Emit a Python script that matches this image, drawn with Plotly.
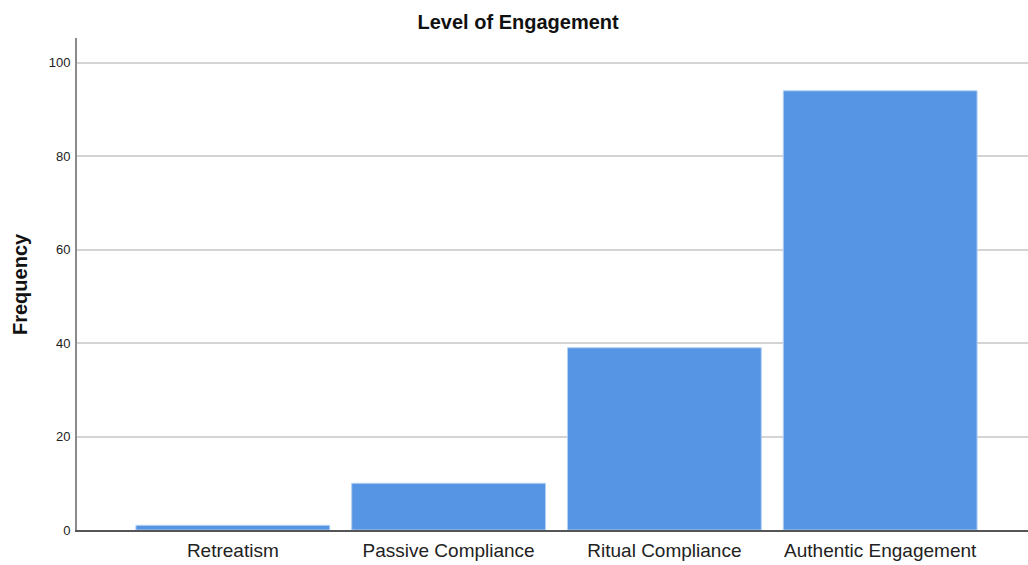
import plotly.graph_objects as go

categories = ["Retreatism", "Passive Compliance", "Ritual Compliance", "Authentic Engagement"]
frequency = [1, 10, 39, 94]
y_ticks = [0, 20, 40, 60, 80, 100]

fig = go.Figure(go.Bar(
    x=categories,
    y=frequency,
    marker=dict(color="#5595E3", line=dict(color="#b3cff3", width=1)),
    hoverinfo="x+y",
))

fig.update_layout(
    width=1028, height=565,
    margin=dict(l=77, r=0, t=38, b=35),
    paper_bgcolor="white", plot_bgcolor="white",
    bargap=0.102,
    font=dict(family="Liberation Sans, Arial, sans-serif", color="#222"),
    title=dict(text="<b>Level of Engagement</b>", x=0.504, xanchor="center",
               y=1 - 22/565, yanchor="middle", font=dict(size=20, color="#111")),
    showlegend=False,
)

fig.update_xaxes(
    type="category",
    range=[-0.722, 3.685],
    showgrid=False,
    showline=True, linecolor="#555", linewidth=1.5,
    ticks="", tickfont=dict(size=19, color="#222"),
    ticklabelstandoff=2,
    zeroline=False,
)

fig.update_yaxes(
    range=[0, 105.3],
    tickvals=y_ticks,
    showgrid=True, gridcolor="#d4d4d4", gridwidth=2,
    showline=True, linecolor="#8a8a8a", linewidth=2,
    ticks="", tickfont=dict(size=13, color="#222"),
    ticklabelstandoff=2,
    zeroline=False,
)

fig.add_annotation(
    text="<b>Frequency</b>", textangle=-90,
    xref="paper", yref="paper", x=-57/951, y=0.5,
    xanchor="center", yanchor="middle", showarrow=False,
    font=dict(size=20, color="#111"),
)

fig.write_html(
    "out.html",
    config={"displayModeBar": False},
    post_script="document.body.style.margin='0';document.body.style.overflow='hidden';",
)
